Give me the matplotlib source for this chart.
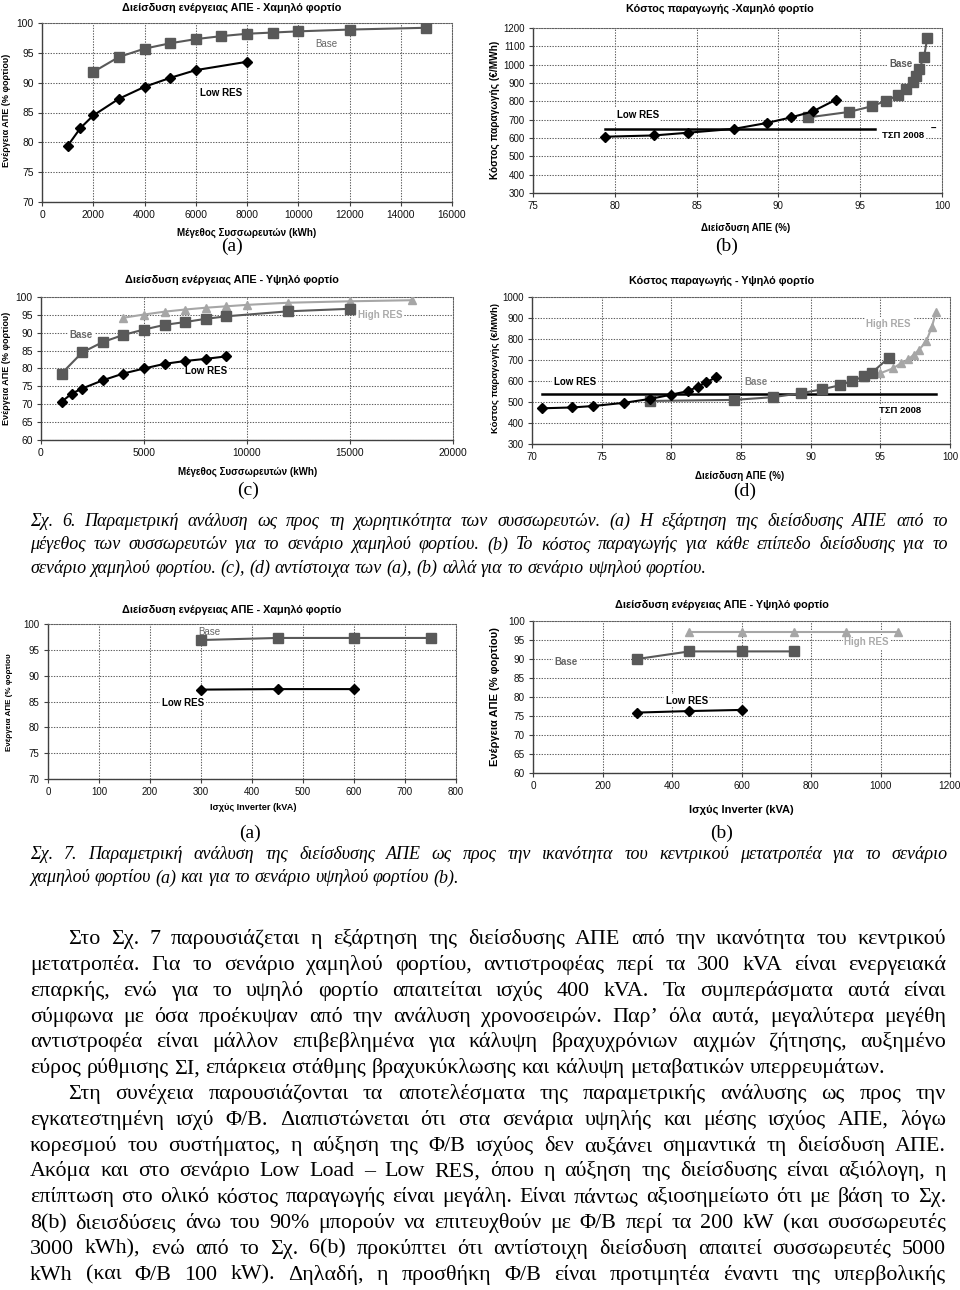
import numpy as np
import matplotlib
matplotlib.use('Agg')
import matplotlib.pyplot as plt
from matplotlib.ticker import FormatStrFormatter

# ---------------- data ----------------
# Σχ. 6(a) - χαμηλό φορτίο, διείσδυση vs συσσωρευτές
a6_low_x = [1000, 1500, 2000, 3000, 4000, 5000, 6000, 8000]
a6_low_y = [79.4, 82.4, 84.5, 87.3, 89.3, 90.8, 92.1, 93.5]
a6_base_x = [2000, 3000, 4000, 5000, 6000, 7000, 8000, 9000, 10000, 12000, 15000]
a6_base_y = [91.8, 94.3, 95.7, 96.6, 97.3, 97.8, 98.2, 98.4, 98.6, 98.9, 99.2]

# Σχ. 6(b) - κόστος vs διείσδυση, χαμηλό φορτίο
b6_low_x = [79.4, 82.4, 84.5, 87.3, 89.3, 90.8, 92.1, 93.5]
b6_low_y = [607, 614, 629, 650, 682, 713, 745, 808]
b6_base_x = [91.8, 94.3, 95.7, 96.6, 97.3, 97.8, 98.2, 98.4, 98.6, 98.9, 99.1]
b6_base_y = [712, 742, 773, 804, 833, 866, 906, 939, 975, 1041, 1145]
b6_tsp_x = [79.4, 95.9]
b6_tsp_y = [647, 647]

# Σχ. 6(c) - υψηλό φορτίο
c6_low_x = [1000, 1500, 2000, 3000, 4000, 5000, 6000, 7000, 8000, 9000]
c6_low_y = [70.7, 73.0, 74.4, 76.7, 78.6, 80.0, 81.3, 82.1, 82.7, 83.4]
c6_base_x = [1000, 2000, 3000, 4000, 5000, 6000, 7000, 8000, 9000, 12000, 15000]
c6_base_y = [78.6, 84.5, 87.4, 89.4, 90.9, 92.2, 93.0, 93.9, 94.6, 96.0, 96.7]
c6_high_x = [4000, 5000, 6000, 7000, 8000, 9000, 10000, 12000, 15000, 18000]
c6_high_y = [94.2, 95.1, 95.9, 96.5, 97.0, 97.4, 97.8, 98.4, 98.8, 99.1]

# Σχ. 6(d) - κόστος vs διείσδυση, υψηλό φορτίο
d6_low_x = [70.7, 72.9, 74.4, 76.6, 78.5, 80.0, 81.2, 81.9, 82.5, 83.2]
d6_low_y = [470, 474, 481, 496, 515, 535, 552, 573, 594, 617]
d6_base_x = [78.5, 84.5, 87.3, 89.3, 90.8, 92.1, 93.0, 93.8, 94.4, 95.6]
d6_base_y = [505, 510, 523, 542, 560, 580, 600, 622, 640, 710]
d6_high_x = [93.8, 95.0, 95.9, 96.5, 97.0, 97.4, 97.8, 98.3, 98.7, 99.0]
d6_high_y = [620, 637, 660, 685, 703, 725, 750, 790, 858, 930]
d6_tsp_x = [70.7, 99.0]
d6_tsp_y = [537, 537]

# Σχ. 7(a) - ισχύς inverter, χαμηλό φορτίο
a7_base_x = [300, 450, 600, 750]
a7_base_y = [96.9, 97.3, 97.3, 97.3]
a7_low_x = [300, 450, 600]
a7_low_y = [87.3, 87.4, 87.4]

# Σχ. 7(b) - ισχύς inverter, υψηλό φορτίο
b7_high_x = [450, 600, 750, 900, 1050]
b7_high_y = [97.1, 97.1, 97.1, 97.1, 97.1]
b7_base_x = [300, 450, 600, 750]
b7_base_y = [90.0, 92.0, 92.0, 92.0]
b7_low_x = [300, 450, 600]
b7_low_y = [75.9, 76.3, 76.6]

cap6 = ["Σχ. 6. Παραμετρική ανάλυση ως προς τη χωρητικότητα των συσσωρευτών. (a) Η εξάρτηση της διείσδυσης ΑΠΕ από το",
        "μέγεθος των συσσωρευτών για το σενάριο χαμηλού φορτίου. (b) Το κόστος παραγωγής για κάθε επίπεδο διείσδυσης για το",
        "σενάριο χαμηλού φορτίου. (c), (d) αντίστοιχα των (a), (b) αλλά για το σενάριο υψηλού φορτίου."]
cap7 = ["Σχ. 7. Παραμετρική ανάλυση της διείσδυσης ΑΠΕ ως προς την ικανότητα του κεντρικού μετατροπέα για το σενάριο",
        "χαμηλού φορτίου (a) και για το σενάριο υψηλού φορτίου (b)."]
par1 = ["Στο Σχ. 7 παρουσιάζεται η εξάρτηση της διείσδυσης ΑΠΕ από την ικανότητα του κεντρικού",
        "μετατροπέα. Για το σενάριο χαμηλού φορτίου, αντιστροφέας περί τα 300 kVA είναι ενεργειακά",
        "επαρκής, ενώ για το υψηλό φορτίο απαιτείται ισχύς 400 kVA. Τα συμπεράσματα αυτά είναι",
        "σύμφωνα με όσα προέκυψαν από την ανάλυση χρονοσειρών. Παρ’ όλα αυτά, μεγαλύτερα μεγέθη",
        "αντιστροφέα είναι μάλλον επιβεβλημένα για κάλυψη βραχυχρόνιων αιχμών ζήτησης, αυξημένο",
        "εύρος ρύθμισης ΣΙ, επάρκεια στάθμης βραχυκύκλωσης και κάλυψη μεταβατικών υπερρευμάτων."]
par2 = ["Στη συνέχεια παρουσιάζονται τα αποτελέσματα της παραμετρικής ανάλυσης ως προς την",
        "εγκατεστημένη ισχύ Φ/Β. Διαπιστώνεται ότι στα σενάρια υψηλής και μέσης ισχύος ΑΠΕ, λόγω",
        "κορεσμού του συστήματος, η αύξηση της Φ/Β ισχύος δεν αυξάνει σημαντικά τη διείσδυση ΑΠΕ.",
        "Ακόμα και στο σενάριο Low Load – Low RES, όπου η αύξηση της διείσδυσης είναι αξιόλογη, η",
        "επίπτωση στο ολικό κόστος παραγωγής είναι μεγάλη. Είναι πάντως αξιοσημείωτο ότι με βάση το Σχ.",
        "8(b) διεισδύσεις άνω του 90% μπορούν να επιτευχθούν με Φ/Β περί τα 200 kW (και συσσωρευτές",
        "3000 kWh), ενώ από το Σχ. 6(b) προκύπτει ότι αντίστοιχη διείσδυση απαιτεί συσσωρευτές 5000",
        "kWh (και Φ/Β 100 kW). Δηλαδή, η προσθήκη Φ/Β είναι προτιμητέα έναντι της υπερβολικής"]

# ---------------- layout helpers ----------------
W, H = 960, 1290
plt.rcParams['font.family'] = ['Liberation Sans', 'DejaVu Sans']
SERIF = ['Liberation Serif', 'DejaVu Serif']
fig = plt.figure(figsize=(9.6, 12.9), dpi=100)

LOW = dict(color='black', marker='D', ms=5, mfc='black', mec='black', lw=1.5, zorder=5)
BASE = dict(color='#595959', marker='s', ms=6.5, mfc='#595959', mec='#595959', lw=1.5, zorder=4)
HIGH = dict(color='#a6a6a6', marker='^', ms=6, mfc='#a6a6a6', mec='#a6a6a6', lw=1.5, zorder=4)


def put(x, y, s, **kw):
    return fig.text(x / W, 1 - y / H, s, **kw)


def make_ax(l, t, r, b, xlim, xstep, ylim, ystep, fs=7):
    ax = fig.add_axes([l / W, 1 - b / H, (r - l) / W, (b - t) / H])
    ax.set_xlim(*xlim)
    ax.set_ylim(*ylim)
    ax.set_xticks(np.arange(xlim[0], xlim[1] + xstep / 2, xstep))
    ax.set_yticks(np.arange(ylim[0], ylim[1] + ystep / 2, ystep))
    ax.xaxis.set_major_formatter(FormatStrFormatter('%d'))
    ax.yaxis.set_major_formatter(FormatStrFormatter('%d'))
    ax.grid(True, color='#606060', ls=(0, (1.3, 1.3)), lw=0.75)
    ax.set_axisbelow(True)
    for s in ('top', 'right'):
        ax.spines[s].set_linestyle((0, (1.3, 1.3)))
        ax.spines[s].set_color('#606060')
        ax.spines[s].set_linewidth(0.75)
    for s in ('left', 'bottom'):
        ax.spines[s].set_color('#404040')
        ax.spines[s].set_linewidth(1.0)
    ax.tick_params(direction='out', length=3, width=0.8, color='#404040',
                   labelsize=fs, pad=3, labelcolor='#111111')
    return ax


def tag(ax, x, y, s, color, bold=True, fs=7):
    ax.text(x, y, s, color=color, fontsize=fs, fontweight='bold' if bold else 'normal',
            ha='center', va='center', zorder=3,
            bbox=dict(fc='white', ec='none', pad=1.2))


def headings(title, tx, ty, xl, xx, xy, yl, yx, yy, sub, sx, sy, tfs=7.8, xfs=7, yfs=6.5):
    put(tx, ty, title, fontsize=tfs, fontweight='bold', ha='center', va='center')
    put(xx, xy, xl, fontsize=xfs, fontweight='bold', ha='center', va='center')
    put(yx, yy, yl, fontsize=yfs, fontweight='bold', ha='center', va='center', rotation=90)
    put(sx, sy, sub, fontsize=14, family=SERIF, ha='center', va='center')


# ---------------- Σχ. 6 ----------------
ax = make_ax(42, 23, 452, 202, (0, 16000), 2000, (70, 100), 5, fs=7.4)
ax.plot(a6_base_x, a6_base_y, **BASE)
ax.plot(a6_low_x, a6_low_y, **LOW)
tag(ax, 11100, 96.5, 'Base', '#666666', bold=False)
tag(ax, 7000, 88.2, 'Low RES', 'black')
headings('Διείσδυση ενέργειας ΑΠΕ - Χαμηλό φορτίο', 232, 8,
         'Μέγεθος Συσσωρευτών (kWh)', 247, 233,
         'Ενέργεια ΑΠΕ (% φορτίου)', 7, 110, '(a)', 232, 246)

ax = make_ax(533, 28, 942, 193, (75, 100), 5, (300, 1200), 100, fs=7)
ax.plot(b6_tsp_x, b6_tsp_y, color='black', lw=1.8, zorder=3)
ax.plot(b6_base_x, b6_base_y, **BASE)
ax.plot(b6_low_x, b6_low_y, **LOW)
tag(ax, 81.4, 725, 'Low RES', 'black')
tag(ax, 97.5, 1003, 'Base', '#595959')
tag(ax, 97.6, 616, 'ΤΣΠ 2008', 'black', fs=6.8)
ax.text(99.45, 650, '–', fontsize=7, fontweight='bold', ha='center', va='center')
headings('Κόστος παραγωγής -Χαμηλό φορτίο', 720, 9,
         'Διείσδυση ΑΠΕ (%)', 746, 228,
         'Κόστος παραγωγής (€/MWh)', 495, 110, '(b)', 727, 246, yfs=7.3)

ax = make_ax(41, 297, 453, 440, (0, 20000), 5000, (60, 100), 5, fs=7.4)
ax.plot(c6_high_x, c6_high_y, **HIGH)
ax.plot(c6_base_x, c6_base_y, **BASE)
ax.plot(c6_low_x, c6_low_y, **LOW)
tag(ax, 1960, 89.5, 'Base', '#666666')
tag(ax, 8030, 79.3, 'Low RES', 'black')
tag(ax, 16470, 95.0, 'High RES', '#aaaaaa')
headings('Διείσδυση ενέργειας ΑΠΕ - Υψηλό φορτίο', 232, 280,
         'Μέγεθος Συσσωρευτών (kWh)', 248, 472,
         'Ενέργεια ΑΠΕ (% φορτίου)', 7, 368, '(c)', 248, 490)

ax = make_ax(532, 297, 950, 444, (70, 100), 5, (300, 1000), 100, fs=7)
ax.plot(d6_tsp_x, d6_tsp_y, color='black', lw=1.8, zorder=3)
ax.plot(d6_high_x, d6_high_y, **HIGH)
ax.plot(d6_base_x, d6_base_y, **BASE)
ax.plot(d6_low_x, d6_low_y, **LOW)
tag(ax, 73.1, 594, 'Low RES', 'black')
tag(ax, 86.1, 594, 'Base', '#808080')
tag(ax, 95.6, 873, 'High RES', '#aaaaaa')
tag(ax, 96.4, 458, 'ΤΣΠ 2008', 'black', fs=6.8)
headings('Κόστος παραγωγής - Υψηλό φορτίο', 722, 281,
         'Διείσδυση ΑΠΕ (%)', 740, 476,
         'Κόστος παραγωγής (€/MWh)', 495, 368, '(d)', 745, 491, yfs=6.8)

# ---------------- Σχ. 7 ----------------
ax = make_ax(48, 624, 456, 779, (0, 800), 100, (70, 100), 5, fs=7)
ax.plot(a7_base_x, a7_base_y, **BASE)
ax.plot(a7_low_x, a7_low_y, **LOW)
tag(ax, 316, 98.5, 'Base', '#666666', bold=False)
tag(ax, 265, 84.8, 'Low RES', 'black')
headings('Διείσδυση ενέργειας ΑΠΕ - Χαμηλό φορτίο', 232, 610,
         'Ισχύς Inverter (kVA)', 253, 808,
         'Ενέργεια ΑΠΕ (% φορτίου', 10, 702, '(a)', 250, 833, xfs=6.6, yfs=5.8)

ax = make_ax(533, 621, 950, 773, (0, 1200), 200, (60, 100), 5, fs=7.2)
ax.plot(b7_high_x, b7_high_y, **HIGH)
ax.plot(b7_base_x, b7_base_y, **BASE)
ax.plot(b7_low_x, b7_low_y, **LOW)
tag(ax, 96, 89.1, 'Base', '#666666')
tag(ax, 442, 79.0, 'Low RES', 'black')
tag(ax, 960, 94.5, 'High RES', '#aaaaaa')
headings('Διείσδυση ενέργειας ΑΠΕ - Υψηλό φορτίο', 722, 605,
         'Ισχύς Inverter (kVA)', 741, 810,
         'Ενέργεια ΑΠΕ (% φορτίου)', 495, 697, '(b)', 722, 833, xfs=8, yfs=8)

# ---------------- justified text ----------------
renderer = fig.canvas.get_renderer()


def text_w(s, size, style):
    t = fig.text(0, 0, s, fontsize=size, family=SERIF, style=style)
    w = t.get_window_extent(renderer).width
    t.remove()
    return w


def paragraph(lines, y0, dy, x0, x1, indent, maxsize, style='normal', last_full=False):
    ref = 10.0
    size = maxsize
    for i, line in enumerate(lines):
        if i == len(lines) - 1 and not last_full:
            continue
        avail = x1 - x0 - (indent if i == 0 else 0)
        size = min(size, ref * avail / text_w(line, ref, style) * 0.99)
    space = text_w('a a', size, style) - text_w('aa', size, style)
    px = size * 100 / 72
    for i, line in enumerate(lines):
        words = line.split(' ')
        ws = [text_w(w, size, style) for w in words]
        start = x0 + (indent if i == 0 else 0)
        if i < len(lines) - 1 or last_full:
            gap = (x1 - start - sum(ws)) / max(len(words) - 1, 1)
        else:
            gap = space
        x = start
        yb = y0 + i * dy + 0.33 * px
        for w, wd in zip(words, ws):
            put(x, yb, w, fontsize=size, family=SERIF, style=style, ha='left', va='baseline')
            x += wd + gap


paragraph(cap6, 520, 23.5, 30, 948, 0, 13, style='italic')
paragraph(cap7, 853, 23.5, 30, 948, 0, 13, style='italic')
paragraph(par1, 937, 25.8, 30, 946, 38, 15.8)
paragraph(par2, 937 + 6 * 25.8, 25.8, 30, 946, 38, 15.8, last_full=True)

fig.savefig('out.png', dpi=100, facecolor='white')
